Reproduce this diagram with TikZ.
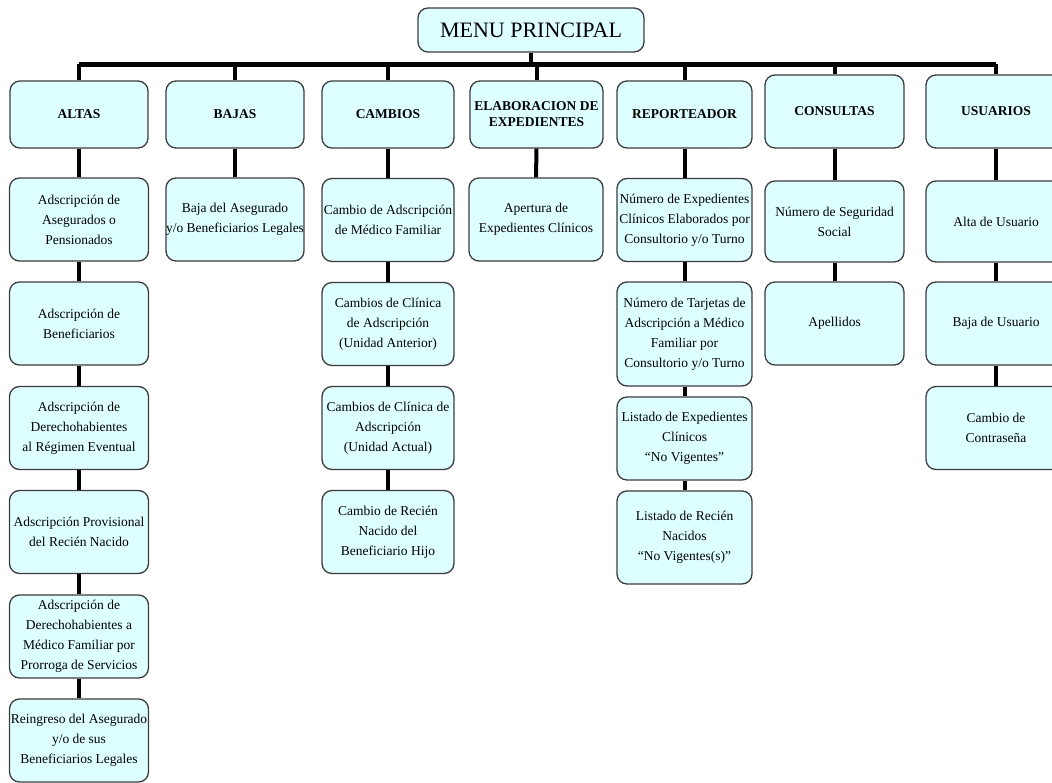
\documentclass[tikz,border=0pt]{standalone}
\usepackage{fontspec}
\setmainfont{Liberation Serif}
\definecolor{boxfill}{RGB}{221,255,255}
\definecolor{boxline}{RGB}{60,60,60}
\newcommand\bodysize{\fontsize{13.5}{20}\selectfont}
\newcommand\headsize{\fontsize{13.5}{16}\selectfont\bfseries}
\newcommand\titlesize{\fontsize{22}{24}\selectfont}
\tikzset{
  box/.style={draw=boxline, fill=boxfill, rounded corners=10pt, line width=1.3pt,
              align=center, inner sep=0pt, font=\bodysize},
  head/.style={box, font=\headsize},
  sub/.style={box, minimum height=83pt},
  conn/.style={line width=4pt},
  bus/.style={line width=5.5pt}
}
\begin{document}
\begin{tikzpicture}[x=1pt,y=-1pt]
\useasboundingbox (0,0) rectangle (1052,783);
\begin{scope}
\clip (0,0) rectangle (1052,783);

% title
\node[box, font=\titlesize, minimum width=226pt, minimum height=44pt] (menu) at (531,30) {MENU PRINCIPAL};

% section headers
\node[head, minimum width=138pt, minimum height=67pt] (altas) at (79,114.5) {ALTAS};
\node[head, minimum width=138pt, minimum height=67pt] (bajas) at (235,114.5) {BAJAS};
\node[head, minimum width=132pt, minimum height=67pt] (cambios) at (388,114.5) {CAMBIOS};
\node[head, minimum width=133pt, minimum height=67pt] (elab) at (536.5,114.5) {ELABORACION DE\\EXPEDIENTES};
\node[head, minimum width=135pt, minimum height=67pt] (report) at (684.5,114.5) {REPORTEADOR};
\node[head, minimum width=139pt, minimum height=73pt] (consultas) at (834.5,111.5) {CONSULTAS};
\node[head, minimum width=140pt, minimum height=73pt] (usuarios) at (996,111.5) {USUARIOS};

% ALTAS
\node[sub, minimum width=139pt] (a1) at (79,219.5) {Adscripción de\\Asegurados o\\Pensionados};
\node[sub, minimum width=139pt] (a2) at (79,323.5) {Adscripción de\\Beneficiarios};
\node[sub, minimum width=139pt] (a3) at (79,428) {Adscripción de\\Derechohabientes\\al Régimen Eventual};
\node[sub, minimum width=139pt] (a4) at (79,532) {Adscripción Provisional\\del Recién Nacido};
\node[sub, minimum width=139pt] (a5) at (79,636.5) {Adscripción de\\Derechohabientes a\\Médico Familiar por\\Prorroga de Servicios};
\node[sub, minimum width=139pt] (a6) at (79,740.5) {Reingreso del Asegurado\\y/o de sus\\Beneficiarios Legales};

% BAJAS
\node[sub, minimum width=138pt] (b1) at (235,219.5) {Baja del Asegurado\\y/o Beneficiarios Legales};

% CAMBIOS
\node[sub, minimum width=132pt] (c1) at (388,220) {Cambio de Adscripción\\de Médico Familiar};
\node[sub, minimum width=132pt] (c2) at (388,324) {Cambios de Clínica\\de Adscripción\\(Unidad Anterior)};
\node[sub, minimum width=132pt] (c3) at (388,428) {Cambios de Clínica de\\Adscripción\\(Unidad Actual)};
\node[sub, minimum width=132pt] (c4) at (388,532) {Cambio de Recién\\Nacido del\\Beneficiario Hijo};

% ELABORACION DE EXPEDIENTES
\node[sub, minimum width=134pt] (e1) at (536,219.5) {Apertura de\\Expedientes Clínicos};

% REPORTEADOR
\node[sub, minimum width=135pt] (r1) at (684.5,220) {Número de Expedientes\\Clínicos Elaborados por\\Consultorio y/o Turno};
\node[box, minimum width=135pt, minimum height=104pt] (r2) at (684.5,334) {Número de Tarjetas de\\Adscripción a Médico\\Familiar por\\Consultorio y/o Turno};
\node[sub, minimum width=135pt] (r3) at (684.5,438.5) {Listado de Expedientes\\Clínicos\\“No Vigentes”};
\node[box, minimum width=135pt, minimum height=93pt] (r4) at (684.5,537.5) {Listado de Recién\\Nacidos\\“No Vigentes(s)”};

% CONSULTAS
\node[box, minimum width=139pt, minimum height=81pt] (k1) at (834.5,221.5) {Número de Seguridad\\Social};
\node[sub, minimum width=139pt] (k2) at (834.5,323.5) {Apellidos};

% USUARIOS
\node[box, minimum width=140pt, minimum height=81pt] (u1) at (996,221.5) {Alta de Usuario};
\node[sub, minimum width=140pt] (u2) at (996,323.5) {Baja de Usuario};
\node[sub, minimum width=140pt] (u3) at (996,428) {Cambio de\\Contraseña};

% distribution bus below the title
\coordinate (busL) at (79,64.5);
\coordinate (busR) at (996,64.5);
\draw[bus] (busL) -- (busR);
\draw[conn] (menu.south) -- (menu.south |- busL);
\foreach \h in {altas,bajas,cambios,elab,report,consultas,usuarios}
  \draw[conn] (\h.north) -- (\h.north |- busL);

% column connectors
\draw[conn] (altas.south) -- (a1.north);
\draw[conn] (a1.south) -- (a2.north);
\draw[conn] (a2.south) -- (a3.north);
\draw[conn] (a3.south) -- (a4.north);
\draw[conn] (a4.south) -- (a5.north);
\draw[conn] (a5.south) -- (a6.north);
\draw[conn] (bajas.south) -- (b1.north);
\draw[conn] (cambios.south) -- (c1.north);
\draw[conn] (c1.south) -- (c2.north);
\draw[conn] (c2.south) -- (c3.north);
\draw[conn] (c3.south) -- (c4.north);
\draw[conn] (elab.south) -- (e1.north);
\draw[conn] (report.south) -- (r1.north);
\draw[conn] (r1.south) -- (r2.north);
\draw[conn] (r2.south) -- (r3.north);
\draw[conn] (r3.south) -- (r4.north);
\draw[conn] (consultas.south) -- (k1.north);
\draw[conn] (k1.south) -- (k2.north);
\draw[conn] (usuarios.south) -- (u1.north);
\draw[conn] (u1.south) -- (u2.north);
\draw[conn] (u2.south) -- (u3.north);
\end{scope}
\end{tikzpicture}
\end{document}
